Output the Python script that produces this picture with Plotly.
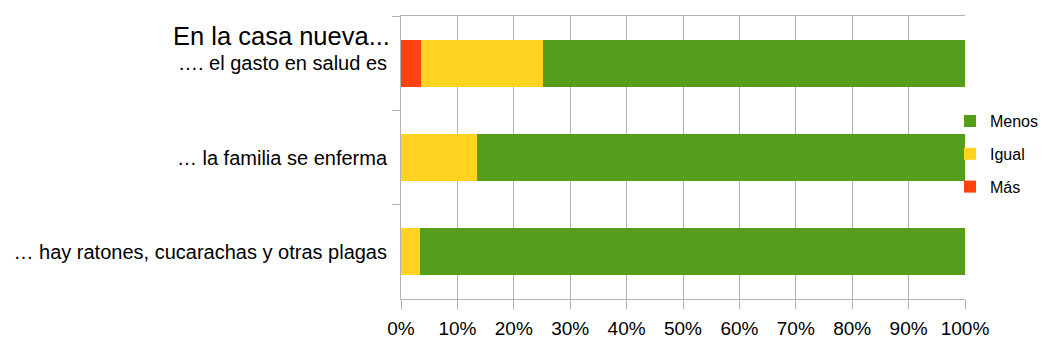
import plotly.graph_objects as go

categories = ["…. el gasto en salud es", "… la familia se enferma", "… hay ratones, cucarachas y otras plagas"]
series_names = ["Más", "Igual", "Menos"]
legend_ranks = {"Menos": 1, "Igual": 2, "Más": 3}
mas = [3.5, 0, 0]
igual = [21.6, 13.5, 3.4]
menos = [74.9, 86.5, 96.6]
colors = {"Más": "#FF420E", "Igual": "#FFD320", "Menos": "#579D1C"}
x_ticks = list(range(0, 101, 10))
x_ticktext = [f"{v}%" for v in x_ticks]
title_text = "En la casa nueva..."

FONT = "Liberation Sans"
GRID = "#b3b3b3"

fig = go.Figure()
for name, vals in zip(series_names, [mas, igual, menos]):
    fig.add_trace(go.Bar(
        y=categories, x=vals, name=name, orientation="h",
        marker=dict(color=colors[name], line=dict(width=0)),
        width=0.5, legendgroup=name, legendrank=legend_ranks[name],
    ))

# page has an 8px body margin, so the figure is made smaller to fit the window
fig.update_layout(
    barmode="stack",
    width=1040, height=343,
    margin=dict(l=393, r=83, t=8, b=52, pad=0, autoexpand=False),
    paper_bgcolor="white", plot_bgcolor="white",
    font=dict(family=FONT, size=19, color="#000000"),
    showlegend=True,
    legend=dict(
        traceorder="grouped", tracegroupgap=9,
        x=0.9734, xanchor="left", y=0.512, yanchor="middle",
        font=dict(size=16, family=FONT), bgcolor="rgba(0,0,0,0)",
        itemwidth=30,
    ),
    xaxis=dict(
        range=[0, 100], tickmode="array", tickvals=x_ticks, ticktext=x_ticktext,
        showgrid=True, gridcolor=GRID, gridwidth=1,
        showline=True, linecolor=GRID, linewidth=1, mirror=True,
        ticks="outside", ticklen=9, tickcolor=GRID, tickwidth=1,
        tickfont=dict(size=19), zeroline=False, fixedrange=True,
        automargin=False, ticklabelstandoff=3,
    ),
    yaxis=dict(
        autorange="reversed", type="category",
        showgrid=False, showline=True, linecolor=GRID, linewidth=1,
        ticks="outside", ticklen=8, tickcolor=GRID, tickwidth=1,
        tickson="boundaries", tickfont=dict(size=20),
        ticklabelstandoff=9, automargin=False,
    ),
    annotations=[dict(
        text=title_text, xref="paper", yref="paper",
        x=-0.016, y=0.929, xanchor="right", yanchor="middle",
        showarrow=False, font=dict(size=25.5, family=FONT, color="#000000"),
    )],
)

fig.write_html("out.html")
